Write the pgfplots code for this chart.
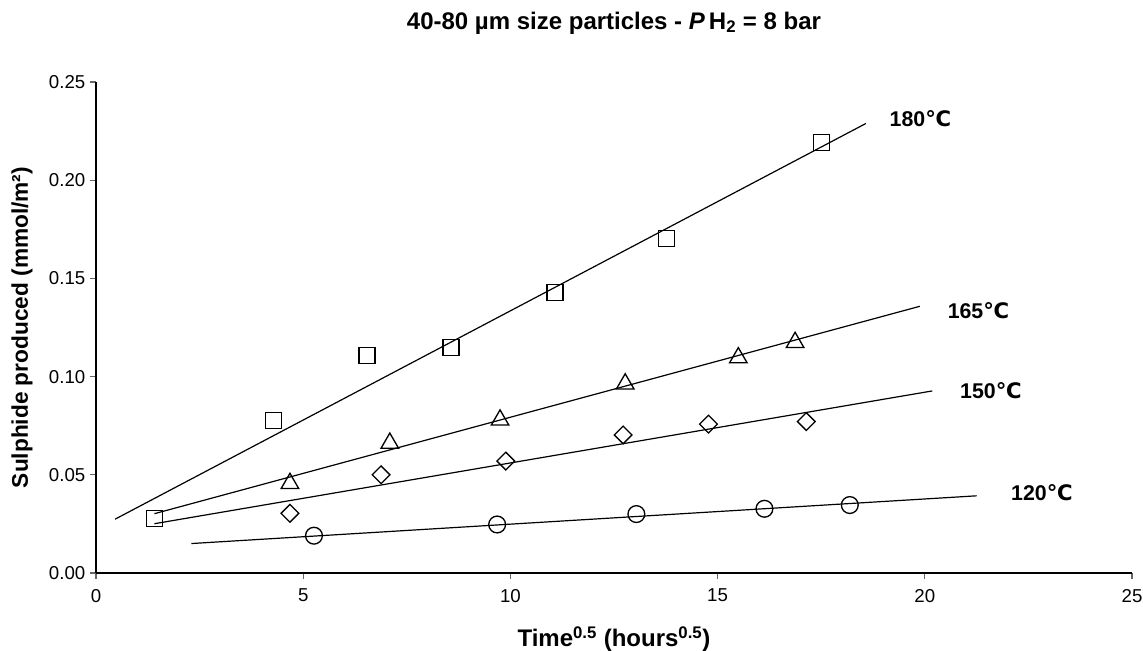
\documentclass[border=0pt]{standalone}
\usepackage{fontspec}
\setmainfont{Liberation Sans}
\newfontfamily\dejavu{DejaVu Sans}
\usepackage{pgfplots}
\pgfplotsset{compat=1.18}
\newcommand{\degC}{{\dejavu\bfseries ℃}}
\begin{document}
\begin{tikzpicture}
\begin{axis}[
  scale only axis,
  width=777pt, height=368.25pt,
  xmin=0, xmax=25, ymin=0, ymax=0.25,
  axis lines*=left,
  axis line style={line width=0.8pt},
  xtick={0,5,10,15,20,25},
  ytick={0,0.05,0.10,0.15,0.20,0.25},
  tick align=outside,
  major tick length=4.5pt,
  tick style={black!60, line width=0.8pt},
  yticklabel style={/pgf/number format/.cd, fixed, fixed zerofill, precision=2},
  xticklabel style={yshift=-4pt},
  /pgf/number format/assume math mode=true,
  ticklabel style={font=\fontsize{14}{16}\selectfont},
  scaled y ticks=false,
  title={\textbf{40-80 µm size particles - \textit{P}\,H\textsubscript{2} = 8 bar}},
  title style={at={(axis description cs:0.5,1.0916)}, anchor=base, font=\fontsize{18}{20}\selectfont},
  xlabel={\textbf{Time\textsuperscript{0.5} (hours\textsuperscript{0.5})}},
  xlabel style={at={(axis description cs:0.5,-0.1497)}, anchor=base, font=\fontsize{18}{20}\selectfont},
  ylabel={\textbf{Sulphide produced (mmol/m²)}},
  ylabel style={at={(axis description cs:-0.0714,0.5)}, anchor=center, font=\fontsize{17}{19}\selectfont},
  clip=false,
]
% fit lines
\addplot[black, line width=0.9pt] coordinates {(0.46,0.0274) (18.58,0.2289)};
\addplot[black, line width=0.9pt] coordinates {(1.41,0.0302) (19.88,0.1358)};
\addplot[black, line width=0.9pt] coordinates {(1.41,0.0251) (20.18,0.0927)};
\addplot[black, line width=0.9pt] coordinates {(2.30,0.0150) (21.25,0.0393)};
% 180 C squares
\addplot[only marks, mark=square, mark size=6pt, mark options={fill=white, draw=black, line width=1pt}] coordinates {
(1.41,0.0277) (4.29,0.0777) (6.54,0.1109) (8.57,0.1147) (11.08,0.1427) (13.76,0.1702) (17.51,0.2192)};
% 165 C triangles
\addplot[only marks, mark=triangle, mark size=7.6pt, mark options={fill=white, draw=black, line width=1pt}] coordinates {
(4.68,0.0456) (7.09,0.0661) (9.75,0.0779) (12.77,0.0963) (15.50,0.1096) (16.87,0.1174)};
% 150 C diamonds
\addplot[only marks, mark=square, mark size=4.7pt, mark options={rotate=45, fill=white, draw=black, line width=1pt}] coordinates {
(4.68,0.0304) (6.88,0.0500) (9.89,0.0570) (12.72,0.0703) (14.78,0.0758) (17.14,0.0771)};
% 120 C circles
\addplot[only marks, mark=o, mark size=6.3pt, mark options={fill=white, draw=black, line width=1pt}] coordinates {
(5.26,0.0190) (9.68,0.0247) (13.04,0.0300) (16.13,0.0327) (18.19,0.0346)};
\node[anchor=west, font=\fontsize{16}{18}\selectfont\bfseries] at (axis cs:19.04,0.2314) {180\degC};
\node[anchor=west, font=\fontsize{16}{18}\selectfont\bfseries] at (axis cs:20.44,0.1337) {165\degC};
\node[anchor=west, font=\fontsize{16}{18}\selectfont\bfseries] at (axis cs:20.74,0.0927) {150\degC};
\node[anchor=west, font=\fontsize{16}{18}\selectfont\bfseries] at (axis cs:21.97,0.0408) {120\degC};
\end{axis}
\pgfresetboundingbox
\path[use as bounding box] ([shift={(-72pt,-57.75pt)}]current axis.south west) rectangle ([shift={(8.25pt,61.5pt)}]current axis.north east);
\end{tikzpicture}
\end{document}
